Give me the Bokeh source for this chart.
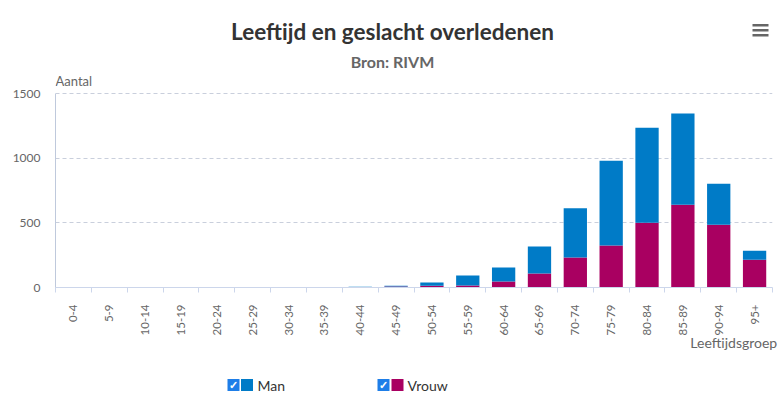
from math import pi
from bokeh.plotting import figure
from bokeh.layouts import column
from bokeh.models import FixedTicker, Label, BoxAnnotation, Range1d, ColumnDataSource, LinearAxis
from bokeh.embed import file_html
from bokeh.resources import INLINE
from bokeh.core.properties import value

# ---- data ----
groups = ["0-4", "5-9", "10-14", "15-19", "20-24", "25-29", "30-34", "35-39",
          "40-44", "45-49", "50-54", "55-59", "60-64", "65-69", "70-74", "75-79",
          "80-84", "85-89", "90-94", "95+"]
man = [0, 0, 0, 0, 0, 0, 1, 1, 3, 6, 26, 77, 108, 209, 380, 656, 736, 706, 318, 69]
vrouw = [0, 0, 0, 0, 1, 0, 0, 1, 2, 7, 13, 16, 47, 109, 233, 326, 502, 641, 486, 215]
y_ticks = [0, 500, 1000, 1500]

title_text = "Leeftijd en geslacht overledenen"
subtitle_text = "Bron: RIVM"
y_title = "Aantal"
x_title = "Leeftijdsgroep"
series_names = ["Man", "Vrouw"]

MAN_C = "#007bc7"
VROUW_C = "#a90061"
FONT = "Lato"
AXIS_C = "#ccd6eb"

idx = list(range(len(groups)))
src = ColumnDataSource(dict(x=idx, Man=man, Vrouw=vrouw))

W = 778
FRAME_L, FRAME_R_PAD = 55, 6
FRAME_BOTTOM = 287
BOTTOM_PAD = 74

p = figure(width=W, height=FRAME_BOTTOM + BOTTOM_PAD,
           x_range=Range1d(-0.5, len(groups) - 0.5),
           y_range=Range1d(0, 2223),
           output_backend="svg", toolbar_location=None,
           min_border_left=FRAME_L, min_border_right=FRAME_R_PAD,
           min_border_top=0, min_border_bottom=BOTTOM_PAD)

p.vbar_stack(["Vrouw", "Man"], x="x", width=0.65, source=src,
             fill_color=[VROUW_C, MAN_C], line_color=None)

p.outline_line_color = None
p.background_fill_color = "white"
p.border_fill_color = "white"
p.xgrid.visible = False
p.ygrid.ticker = FixedTicker(ticks=y_ticks)
p.ygrid.grid_line_color = "#c9cfdc"
p.ygrid.grid_line_dash = "4 3"
p.ygrid.grid_line_width = 1

# y axis
ya = p.yaxis[0]
ya.ticker = FixedTicker(ticks=y_ticks)
ya.bounds = (y_ticks[0], y_ticks[-1])
ya.axis_line_color = "#bfc9dc"
ya.axis_line_width = 1
ya.major_tick_line_color = None
ya.major_tick_out = 0
ya.major_tick_in = 0
ya.minor_tick_line_color = None
ya.major_label_standoff = 15
ya.major_label_text_font = FONT
ya.major_label_text_font_size = "12px"
ya.major_label_text_color = "#666666"

# x axis
xa = p.xaxis[0]
xa.ticker = FixedTicker(ticks=idx, minor_ticks=[i - 0.5 for i in range(len(groups) + 1)])
xa.major_label_overrides = {i: g for i, g in zip(idx, groups)}
xa.major_label_orientation = pi / 2
xa.major_tick_line_color = None
xa.major_tick_out = 0
xa.major_tick_in = 0
xa.minor_tick_out = 5
xa.minor_tick_in = 0
xa.minor_tick_line_color = AXIS_C
xa.axis_line_color = AXIS_C
xa.major_label_standoff = 12
xa.major_label_text_font = FONT
xa.major_label_text_font_size = "11.5px"
xa.major_label_text_color = "#666666"

# x axis title, right-aligned under the tick labels (a second, label-only axis)
title_pos = 18.42
xt = LinearAxis(ticker=FixedTicker(ticks=[title_pos]),
                major_label_overrides={title_pos: x_title},
                axis_line_color=None, major_tick_line_color=None, minor_tick_line_color=None,
                major_tick_out=0, major_tick_in=0, minor_tick_out=0, minor_tick_in=0,
                major_label_standoff=-5,
                major_label_text_font=FONT, major_label_text_font_size="14px",
                major_label_text_color="#666666")
p.add_layout(xt, "below")


def lab(x, y, text, size, color="#333333", style="normal", align="left", baseline="middle"):
    p.add_layout(Label(x=x, y=y, x_units="screen", y_units="screen", text=text,
                       text_font=FONT, text_font_size=size, text_color=color,
                       text_font_style=style, text_align=align, text_baseline=baseline))


def box(l, r, b, t, color):
    p.add_layout(BoxAnnotation(left=l, right=r, bottom=b, top=t,
                               left_units="screen", right_units="screen",
                               bottom_units="screen", top_units="screen",
                               fill_color=color, fill_alpha=1.0, line_color=None))


# titles (screen units are measured from the frame's bottom-left corner)
lab(337, 256, title_text, "22.5px", "#333333", "bold", "center")
lab(337, 226, subtitle_text, "16px", "#666666", "bold", "center")
lab(0, 206.5, y_title, "13px", "#666666")

# menu icon
for yb in (261, 256, 251):
    box(697, 713, yb, yb + 2.6, "#666666")

# ---- bottom strip: legend (data units == page pixels) ----
QH = 397 - p.height
top_px = p.height
q = figure(width=W, height=QH,
           x_range=Range1d(FRAME_L, W - FRAME_R_PAD), y_range=Range1d(top_px + QH, top_px),
           x_axis_type=None, y_axis_type=None,
           output_backend="svg", toolbar_location=None,
           min_border_left=FRAME_L, min_border_right=FRAME_R_PAD,
           min_border_top=0, min_border_bottom=0)
q.grid.visible = False
q.outline_line_color = None
q.border_fill_color = "white"

leg = ColumnDataSource(dict(
    cb_x=[233, 383], sq_x=[246.5, 397], tx=[257, 407], y=[384.5, 384.5],
    color=[MAN_C, VROUW_C], name=series_names, check=["\u2713", "\u2713"]))
q.rect(x="cb_x", y="y", width=12, height=12, source=leg, fill_color="#1e7ee8", line_color=None)
q.text(x="cb_x", y="y", text="check", source=leg, text_color="white", text_font_size="11px",
       text_font_style="bold", text_align="center", text_baseline="middle")
q.rect(x="sq_x", y="y", width=12, height=12, source=leg, fill_color="color", line_color=None)
q.text(x="tx", y="y", text="name", source=leg, text_font=value(FONT), text_font_size="14px",
       text_color="#333333", text_align="left", text_baseline="middle")

layout = column(p, q, spacing=0)
open("out.html", "w").write(file_html(layout, INLINE))
